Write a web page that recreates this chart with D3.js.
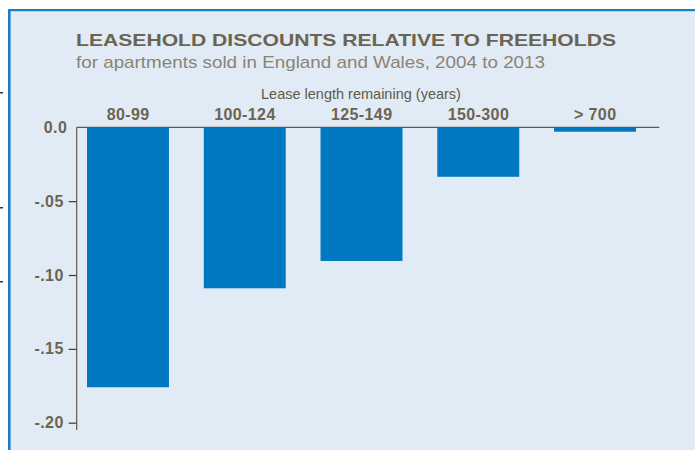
<!DOCTYPE html>
<html><head><meta charset="utf-8">
<script src="https://cdn.jsdelivr.net/npm/d3@7"></script>
<style>body{margin:0;background:#fff}svg{display:block}</style>
</head><body>
<svg id="c" width="695" height="450"></svg>
<script>
const categories = ["80-99", "100-124", "125-149", "150-300", "> 700"];
const values = [-0.176, -0.109, -0.0905, -0.0335, -0.003];
const yTicks = [0, -0.05, -0.10, -0.15, -0.20];
const yTickLabels = ["0.0", "-.05", "-.10", "-.15", "-.20"];
const title = "LEASEHOLD DISCOUNTS RELATIVE TO FREEHOLDS";
const subtitle = "for apartments sold in England and Wales, 2004 to 2013";
const axisTitle = "Lease length remaining (years)";

const svg = d3.select("#c");
const font = "'Liberation Sans', Arial, Helvetica, sans-serif";
const dark = "#6b6450";

// panel
svg.append("rect").attr("x", 8).attr("y", 9).attr("width", 700).attr("height", 450)
  .attr("fill", "#e1ebf6");
svg.append("rect").attr("x", 8).attr("y", 9).attr("width", 700).attr("height", 2.2).attr("fill", "#1a7dc8");
svg.append("rect").attr("x", 8).attr("y", 9).attr("width", 2.6).attr("height", 450).attr("fill", "#1a7dc8");

// small edge marks
[92, 207, 281].forEach(y => svg.append("rect").attr("x", 0).attr("y", y).attr("width", 3).attr("height", 1.5).attr("fill", "#333"));

const y = d3.scaleLinear().domain([0, -0.2]).range([127.3, 422.7]);
const x = d3.scaleBand().domain(categories).range([69.6, 653.4]).paddingInner(0.298).paddingOuter(0.149);

// titles
svg.append("text").attr("x", 76).attr("y", 45.7).text(title)
  .attr("font-family", font).attr("font-weight", "bold").attr("font-size", 17.3).attr("fill", dark)
  .attr("textLength", 540).attr("lengthAdjust", "spacingAndGlyphs");
svg.append("text").attr("x", 76).attr("y", 68.3).text(subtitle)
  .attr("font-family", font).attr("font-size", 17).attr("fill", "#8a8373")
  .attr("textLength", 469).attr("lengthAdjust", "spacingAndGlyphs");
svg.append("text").attr("x", 361).attr("y", 98.5).attr("text-anchor", "middle").text(axisTitle)
  .attr("font-family", font).attr("font-size", 14.5).attr("fill", "#5f5a4a");

// bars
svg.append("g").selectAll("rect").data(categories).join("rect")
  .attr("x", d => x(d)).attr("width", x.bandwidth())
  .attr("y", y(0)).attr("height", (d, i) => y(values[i]) - y(0))
  .attr("fill", "#0077c1");

// category labels
svg.append("g").selectAll("text").data(categories).join("text")
  .attr("x", d => x(d) + x.bandwidth() / 2 + 0.2).attr("y", 120)
  .attr("text-anchor", "middle").text(d => d)
  .attr("font-family", font).attr("font-weight", "bold").attr("font-size", 16).attr("letter-spacing", 0.4)
  .attr("fill", dark);

// y axis
const yAxis = d3.axisLeft(y).tickValues(yTicks).tickFormat((d, i) => yTickLabels[i]).tickSize(8).tickPadding(5);
const gy = svg.append("g").attr("transform", "translate(76.7,0)").call(yAxis);
gy.select(".domain").remove();
gy.selectAll(".tick line").attr("stroke", "#3a3830").attr("stroke-width", 1.2);
gy.selectAll(".tick text").attr("font-family", font).attr("font-weight", "bold").attr("font-size", 16)
  .attr("letter-spacing", 0.4).attr("fill", dark);
const first = gy.selectAll(".tick").filter(d => d === 0);
first.select("line").remove();
first.select("text").attr("x", -9.5);
svg.append("line").attr("x1", 76.7).attr("x2", 76.7).attr("y1", 127.3).attr("y2", 430)
  .attr("stroke", "#5f5a4a").attr("stroke-width", 1.2);
svg.append("line").attr("x1", 76.7).attr("x2", 659.3).attr("y1", y(0)).attr("y2", y(0))
  .attr("stroke", "#5f5a4a").attr("stroke-width", 1.2);
</script>
</body></html>
